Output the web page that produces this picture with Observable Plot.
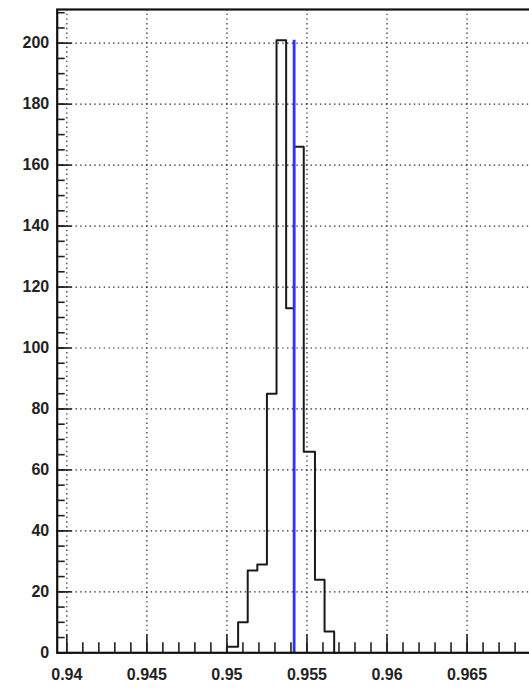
<!DOCTYPE html>
<html><head><meta charset="utf-8">
<script src="https://cdn.jsdelivr.net/npm/d3@7"></script>
<script src="https://cdn.jsdelivr.net/npm/@observablehq/plot@0.6"></script>
<style>
body{margin:0;background:#fff;}
#wrap{width:529px;height:689px;overflow:hidden;position:relative;background:#fff;}
#wrap svg{max-width:none !important;height:689px !important;width:560px !important;display:block;}
</style></head><body><div id="wrap"></div>
<script>
// Histogram bin edges (x) and counts
const binEdges = [0.9500, 0.9507, 0.9513, 0.9519, 0.9525, 0.9531, 0.9537, 0.9542, 0.9548, 0.9555, 0.9561, 0.9567];
const counts   = [2, 10, 27, 29, 85, 201, 113, 166, 66, 24, 7];
// Vertical marker line (blue)
const markerX = 0.9542;
const markerTop = 201;
// Axis ticks
const xMajorTicks = [0.94, 0.945, 0.95, 0.955, 0.96, 0.965, 0.97];
const xTickLabels = ["0.94", "0.945", "0.95", "0.955", "0.96", "0.965", ""];
const yMajorTicks = [0, 20, 40, 60, 80, 100, 120, 140, 160, 180, 200];
const yTickLabels = ["0", "20", "40", "60", "80", "100", "120", "140", "160", "180", "200"];
const xMinorTicks = d3.range(0, 31).map(i => +(0.94 + i * 0.001).toFixed(3));
const yMinorTicks = d3.range(0, 43).map(i => i * 5);
const xDomain = [0.9394, 0.97];
const yDomain = [0, 211.05];

const width = 560, height = 689;
const mL = 56.7, mR = width - 546.6, mT = 9, mB = height - 652.3;
const plotW = width - mL - mR, plotH = height - mT - mB;

const points = [{x: binEdges[0], y: 0}]
  .concat(counts.map((c, i) => ({x: binEdges[i], y: c})))
  .concat([{x: binEdges[binEdges.length - 1], y: 0}]);

const xLab = new Map(xMajorTicks.map((t, i) => [t, xTickLabels[i]]));
const yLab = new Map(yMajorTicks.map((t, i) => [t, yTickLabels[i]]));

const grid = {stroke: "#000", strokeOpacity: 0.85, strokeWidth: 1.2, strokeDasharray: "1.4,3.3"};

const chart = Plot.plot({
  width, height,
  marginLeft: mL, marginRight: mR, marginTop: mT, marginBottom: mB,
  style: {fontFamily: "'Liberation Sans', Arial, Helvetica, sans-serif", fontSize: "16px", fontWeight: "bold", color: "#222", background: "#fff"},
  x: {domain: xDomain},
  y: {domain: yDomain},
  marks: [
    Plot.ruleX(xMajorTicks, {x: d => d, ...grid}),
    Plot.ruleY(yMajorTicks.filter(d => d > 0), {y: d => d, ...grid}),
    Plot.line(points, {x: "x", y: "y", curve: "step-after", stroke: "#1a1a1a", strokeWidth: 2}),
    Plot.ruleX([markerX], {x: d => d, y1: 0, y2: markerTop, stroke: "#3030ff", strokeWidth: 2.8}),
    Plot.ruleX(xMinorTicks, {x: d => d, insetTop: plotH - 10, stroke: "#222", strokeWidth: 1.6}),
    Plot.ruleX(xMajorTicks, {x: d => d, insetTop: plotH - 18, stroke: "#222", strokeWidth: 1.6}),
    Plot.ruleY(yMinorTicks.filter(d => d <= yDomain[1]), {y: d => d, insetRight: plotW - 8, stroke: "#222", strokeWidth: 1.6}),
    Plot.ruleY(yMajorTicks, {y: d => d, insetRight: plotW - 15, stroke: "#222", strokeWidth: 1.6}),
    Plot.frame({stroke: "#111", strokeWidth: 2.2}),
    Plot.axisX(xMajorTicks, {tickSize: 0, tickPadding: 16, tickFormat: d => xLab.get(d), label: null, fontSize: 16}),
    Plot.axisY(yMajorTicks, {tickSize: 0, tickPadding: 8, tickFormat: d => yLab.get(d), label: null, fontSize: 16})
  ]
});
document.getElementById("wrap").appendChild(chart);
</script></body></html>
